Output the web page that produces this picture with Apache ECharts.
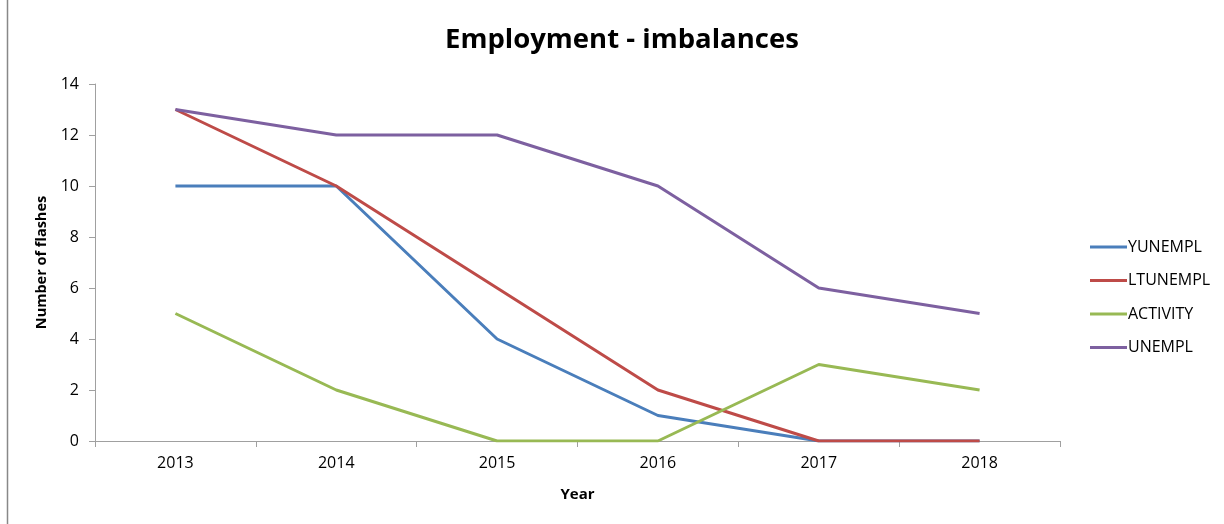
<!DOCTYPE html>
<html><head><meta charset="utf-8">
<script src="https://cdn.jsdelivr.net/npm/echarts@6/dist/echarts.min.js"></script>
<style>html,body{margin:0;padding:0;background:#fff}#c{width:1224px;height:524px}</style>
</head><body><div id="c"></div>
<script>
const categories = ['2013','2014','2015','2016','2017','2018'];
const yunempl = [10,10,4,1,0,0];
const ltunempl = [13,10,6,2,0,0];
const activity = [5,2,0,0,3,2];
const unempl = [13,12,12,10,6,5];
const seriesNames = ['YUNEMPL','LTUNEMPL','ACTIVITY','UNEMPL'];
const colors = ['#4A7EBB','#BE4B48','#98B954','#7D60A0'];
const font = 'Open Sans, Noto Sans, sans-serif';
const chart = echarts.init(document.getElementById('c'));
const mk = (name, data, i) => ({
  name, type:'line', data, symbol:'none', smooth:false,
  lineStyle:{width:3,color:colors[i]}, itemStyle:{color:colors[i]}
});
chart.setOption({
  animation:false,
  title:{text:'Employment - imbalances',left:440,top:21,
    textStyle:{fontFamily:font,fontSize:27.5,fontWeight:'bold',color:'#000'}},
  legend:{orient:'vertical',left:1085,top:232,itemGap:13.5,itemWidth:37,itemHeight:3,
    icon:'rect',data:seriesNames,
    textStyle:{fontFamily:font,fontSize:16,lineHeight:20,color:'#000',padding:[0,0,0,-4]}},
  grid:{left:95,right:164,top:84,bottom:83,containLabel:false},
  xAxis:{type:'category',data:categories,boundaryGap:true,
    name:'Year',nameLocation:'middle',nameGap:46,
    nameTextStyle:{fontFamily:font,fontSize:15,fontWeight:'bold',color:'#000'},
    axisLine:{lineStyle:{color:'#A0A0A0',width:1}},
    axisTick:{show:true,length:6,lineStyle:{color:'#A0A0A0'}},
    axisLabel:{fontFamily:font,fontSize:16,color:'#000',margin:14},
    splitLine:{show:false}},
  yAxis:{type:'value',min:0,max:14,interval:2,
    name:'Number of flashes',nameLocation:'middle',nameGap:44,nameRotate:90,
    nameTextStyle:{fontFamily:font,fontSize:14.5,fontWeight:'bold',color:'#000'},
    axisLine:{show:true,lineStyle:{color:'#A0A0A0',width:1}},
    axisTick:{show:true,length:6,lineStyle:{color:'#A0A0A0'}},
    axisLabel:{fontFamily:font,fontSize:16,color:'#000',margin:16},
    splitLine:{show:false}},
  graphic:[{type:'line',shape:{x1:7.5,y1:0,x2:7.5,y2:524},style:{stroke:'#888',lineWidth:1.5}}],
  series:[mk(seriesNames[0],yunempl,0),mk(seriesNames[1],ltunempl,1),mk(seriesNames[2],activity,2),mk(seriesNames[3],unempl,3)]
});
</script></body></html>
